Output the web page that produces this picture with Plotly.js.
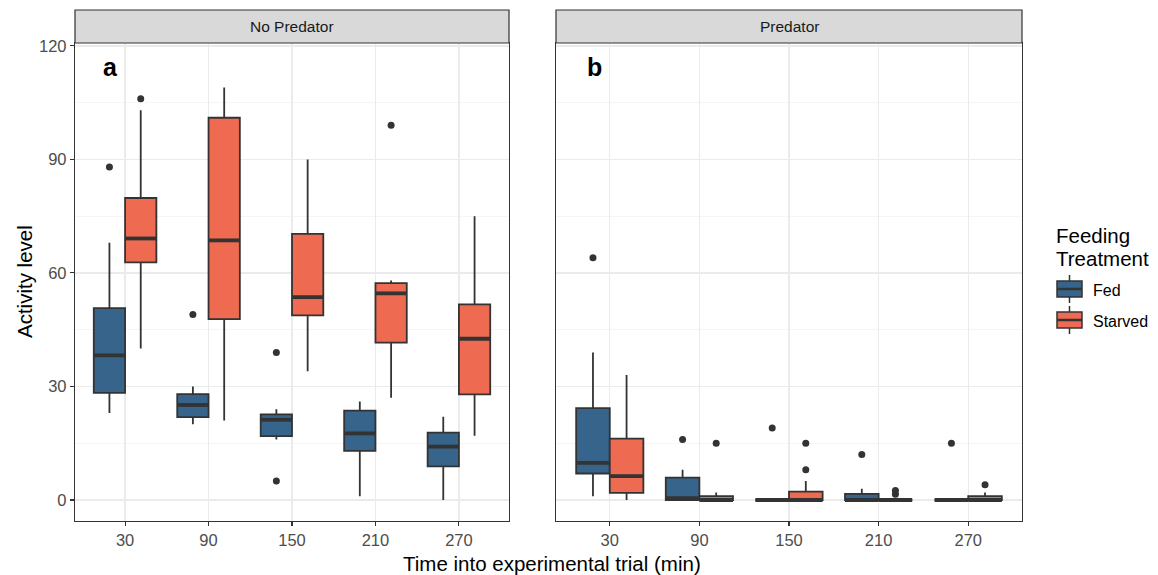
<!DOCTYPE html>
<html>
<head>
<meta charset="utf-8">
<script src="https://cdn.plot.ly/plotly-3.0.1.min.js"></script>
<style>html,body{margin:0;padding:0;background:#fff;}#chart{width:1158px;height:575px;}</style>
</head>
<body>
<div id="chart"></div>
<script>
// ---- data ----
const times = ['30', '90', '150', '210', '270'];
const panels = ['No Predator', 'Predator'];
const treatments = ['Fed', 'Starved'];
const legendTitle = ['Feeding', 'Treatment'];

// No Predator, Fed
const npFedLow = [23, 20, 16, 1, 0];
const npFedQ1  = [28.3, 21.9, 16.9, 13, 8.9];
const npFedMed = [38.2, 25.1, 21.2, 17.6, 14.1];
const npFedQ3  = [50.7, 28, 22.6, 23.6, 17.8];
const npFedHigh = [68, 30, 24, 26, 22];
const npFedOutT = ['30', '90', '150', '150'];
const npFedOutV = [88, 49, 39, 5];

// No Predator, Starved
const npStvLow = [40, 21, 34, 27, 17];
const npStvQ1  = [62.8, 47.8, 48.8, 41.6, 27.9];
const npStvMed = [69.1, 68.6, 53.6, 54.6, 42.6];
const npStvQ3  = [79.8, 101, 70.3, 57.3, 51.7];
const npStvHigh = [103, 109, 90, 58, 75];
const npStvOutT = ['30', '210'];
const npStvOutV = [106, 99];

// Predator, Fed
const pFedLow = [1, 0, 0, 0, 0];
const pFedQ1  = [7, 0, 0, 0, 0];
const pFedMed = [9.8, 0.5, 0, 0, 0];
const pFedQ3  = [24.3, 5.9, 0, 1.6, 0];
const pFedHigh = [39, 8, 0, 3, 0];
const pFedOutT = ['30', '90', '150', '210', '270'];
const pFedOutV = [64, 16, 19, 12, 15];

// Predator, Starved
const pStvLow = [0, 0, 0, 0, 0];
const pStvQ1  = [1.9, 0, 0, 0, 0];
const pStvMed = [6.3, 0, 0, 0, 0];
const pStvQ3  = [16.2, 1, 2.2, 0, 1];
const pStvHigh = [33, 2, 5, 0, 2];
const pStvOutT = ['90', '150', '150', '210', '210', '270'];
const pStvOutV = [15, 15, 8, 1.5, 2.5, 4];

// ---- styling ----
const colFed = '#36648B';
const colStv = '#EE6A50';
const dark = '#333333';
const boxW = 0.375;
const font = 'Liberation Sans, Arial, sans-serif';

function pos(t, off) { return times.indexOf(t) + 1 + off; }

const series = [
  {panel: 0, name: treatments[0], col: colFed, off: -boxW / 2, lo: npFedLow, q1: npFedQ1, med: npFedMed, q3: npFedQ3, hi: npFedHigh, ot: npFedOutT, ov: npFedOutV},
  {panel: 0, name: treatments[1], col: colStv, off: boxW / 2, lo: npStvLow, q1: npStvQ1, med: npStvMed, q3: npStvQ3, hi: npStvHigh, ot: npStvOutT, ov: npStvOutV},
  {panel: 1, name: treatments[0], col: colFed, off: -boxW / 2, lo: pFedLow, q1: pFedQ1, med: pFedMed, q3: pFedQ3, hi: pFedHigh, ot: pFedOutT, ov: pFedOutV},
  {panel: 1, name: treatments[1], col: colStv, off: boxW / 2, lo: pStvLow, q1: pStvQ1, med: pStvMed, q3: pStvQ3, hi: pStvHigh, ot: pStvOutT, ov: pStvOutV}
];

const traces = [];
series.forEach(s => {
  const xa = s.panel === 0 ? 'x' : 'x2';
  const ya = s.panel === 0 ? 'y' : 'y2';
  const xs = times.map(t => pos(t, s.off));
  traces.push({
    type: 'box', name: s.name, legendgroup: s.name, showlegend: false,
    xaxis: xa, yaxis: ya,
    x: xs, q1: s.q1, median: s.med, q3: s.q3, lowerfence: s.lo, upperfence: s.hi,
    width: boxW, whiskerwidth: 0, boxpoints: false,
    fillcolor: s.col, line: {color: dark, width: 1.8},
    hoverinfo: 'skip'
  });
  // thick median line
  const mx = [], my = [];
  times.forEach((t, i) => {
    mx.push(pos(t, s.off) - boxW / 2, pos(t, s.off) + boxW / 2, null);
    my.push(s.med[i], s.med[i], null);
  });
  traces.push({
    type: 'scatter', mode: 'lines', xaxis: xa, yaxis: ya, showlegend: false, legendgroup: s.name,
    x: mx, y: my, line: {color: dark, width: 3.8}, hoverinfo: 'skip', connectgaps: false
  });
  // outliers
  traces.push({
    type: 'scatter', mode: 'markers', xaxis: xa, yaxis: ya, showlegend: false, legendgroup: s.name,
    x: s.ot.map(t => pos(t, s.off)), y: s.ov,
    marker: {color: dark, size: 7}, hoverinfo: 'skip'
  });
});

const W = 1158, H = 575;
const px = v => v / W;
const py = v => 1 - v / H;
const d1 = [px(75), px(509)];
const d2 = [px(556), px(1022)];
const yd = [py(521), py(43)];
const stripTop = py(10);

const xBase = {
  range: [0.4, 5.6], tickvals: [1, 2, 3, 4, 5], ticktext: times,
  showgrid: true, gridcolor: '#EBEBEB', gridwidth: 1.4,
  zeroline: false, showline: true, mirror: true, linecolor: dark, linewidth: 1.2,
  ticks: 'outside', ticklen: 4, tickwidth: 1.1, tickcolor: dark,
  tickfont: {family: font, size: 16.5, color: '#4D4D4D'}, automargin: false, fixedrange: true
};
const yBase = {
  range: [-5.55, 120.75], tickvals: [0, 30, 60, 90, 120],
  showgrid: true, gridcolor: '#EBEBEB', gridwidth: 1.4,
  minor: {tickvals: [15, 45, 75, 105], showgrid: true, gridcolor: '#F2F2F2', gridwidth: 0.8, ticks: ''},
  zeroline: false, showline: true, mirror: true, linecolor: dark, linewidth: 1.2,
  tickfont: {family: font, size: 16.5, color: '#4D4D4D'}, automargin: false, fixedrange: true
};

// custom ggplot-style legend keys
const legendCols = [colFed, colStv];
const legendY = [289, 320];
const titleY = [235, 258];
const keyX0 = 1057, keyX1 = 1082, keyH = 16, whisk = 6;
const shapes = [
  {type: 'rect', xref: 'paper', yref: 'paper', x0: d1[0], x1: d1[1], y0: yd[1], y1: stripTop, fillcolor: '#D9D9D9', line: {color: dark, width: 1.2}, layer: 'above'},
  {type: 'rect', xref: 'paper', yref: 'paper', x0: d2[0], x1: d2[1], y0: yd[1], y1: stripTop, fillcolor: '#D9D9D9', line: {color: dark, width: 1.2}, layer: 'above'}
];
const annotations = [
  {xref: 'paper', yref: 'paper', x: (d1[0] + d1[1]) / 2, y: (yd[1] + stripTop) / 2, yanchor: 'middle', xanchor: 'center', text: panels[0], showarrow: false, font: {family: font, size: 15.5, color: '#1A1A1A'}},
  {xref: 'paper', yref: 'paper', x: (d2[0] + d2[1]) / 2, y: (yd[1] + stripTop) / 2, yanchor: 'middle', xanchor: 'center', text: panels[1], showarrow: false, font: {family: font, size: 15.5, color: '#1A1A1A'}},
  {xref: 'x', yref: 'y', x: 0.83, y: 114.5, yanchor: 'middle', text: '<b>a</b>', showarrow: false, font: {family: font, size: 25, color: '#000'}},
  {xref: 'x2', yref: 'y2', x: 0.83, y: 114.5, yanchor: 'middle', text: '<b>b</b>', showarrow: false, font: {family: font, size: 25, color: '#000'}},
  {xref: 'paper', yref: 'paper', x: px(552), y: py(563), yanchor: 'middle', xanchor: 'center', text: 'Time into experimental trial (min)', showarrow: false, font: {family: font, size: 20.5, color: '#000'}},
  {xref: 'paper', yref: 'paper', x: px(24), y: py(282), yanchor: 'middle', xanchor: 'center', textangle: -90, text: 'Activity level', showarrow: false, font: {family: font, size: 20.5, color: '#000'}}
];
legendTitle.forEach((t, i) => {
  annotations.push({xref: 'paper', yref: 'paper', x: px(1054), y: py(titleY[i]), yanchor: 'middle', xanchor: 'left', text: t, showarrow: false, font: {family: font, size: 20.5, color: '#000'}});
});
treatments.forEach((t, i) => {
  const cy = legendY[i];
  const cx = (keyX0 + keyX1) / 2;
  shapes.push({type: 'line', xref: 'paper', yref: 'paper', x0: px(cx), x1: px(cx), y0: py(cy - keyH / 2 - whisk), y1: py(cy + keyH / 2 + whisk), line: {color: dark, width: 1.5}});
  shapes.push({type: 'rect', xref: 'paper', yref: 'paper', x0: px(keyX0), x1: px(keyX1), y0: py(cy - keyH / 2), y1: py(cy + keyH / 2), fillcolor: legendCols[i], line: {color: dark, width: 1.5}});
  shapes.push({type: 'line', xref: 'paper', yref: 'paper', x0: px(keyX0), x1: px(keyX1), y0: py(cy), y1: py(cy), line: {color: dark, width: 2.5}});
  annotations.push({xref: 'paper', yref: 'paper', x: px(1091), y: py(cy + 1), xanchor: 'left', yanchor: 'middle', text: t, showarrow: false, font: {family: font, size: 16, color: '#000'}});
});

const layout = {
  width: W, height: H,
  margin: {l: 0, r: 0, t: 0, b: 0},
  paper_bgcolor: '#fff', plot_bgcolor: '#fff',
  showlegend: false,
  boxmode: 'overlay',
  font: {family: font},
  xaxis: Object.assign({}, xBase, {domain: d1, anchor: 'y'}),
  xaxis2: Object.assign({}, xBase, {domain: d2, anchor: 'y2'}),
  yaxis: Object.assign({}, yBase, {domain: yd, anchor: 'x', ticks: 'outside', ticklen: 4, tickwidth: 1.1, tickcolor: dark}),
  yaxis2: Object.assign({}, yBase, {domain: yd, anchor: 'x2', showticklabels: false, ticks: ''}),
  shapes: shapes,
  annotations: annotations
};

Plotly.newPlot('chart', traces, layout, {staticPlot: true, displayModeBar: false});
</script>
</body>
</html>
